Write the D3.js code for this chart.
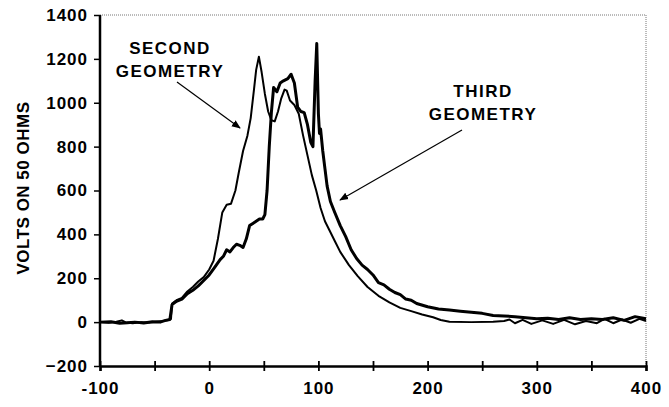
<!DOCTYPE html>
<html>
<head>
<meta charset="utf-8">
<script src="https://cdn.jsdelivr.net/npm/d3@7"></script>
<style>
  body { margin: 0; background: #fff; }
  text { font-family: "Liberation Sans", Arial, sans-serif; font-weight: bold; fill: #000; }
</style>
</head>
<body>
<svg width="669" height="407"></svg>
<script>
// second geometry (thin trace)
var secondX = [-100,-92,-85,-80,-76,-70,-62,-55,-48,-42,-37,-35,-34,-30,-25,-20,-15,-10,-5,0,4,8,12,16,20,24,27,31,35,38,41,43,45.5,48,51,54,57,60,63,66,69,71,74,78,82,86,90,94,98,102,106,110,115,120,128,136,145,155,165,175,185,195,205,212,220,240,260,270,275,280,287,295,305,315,325,335,345,355,362,370,378,386,394,400];
var secondV = [0,-3,2,8,-2,-5,0,-2,3,5,10,15,85,100,110,140,160,185,205,240,280,380,500,535,540,600,680,780,850,930,1060,1150,1210,1140,1040,960,920,915,960,1020,1060,1055,1010,990,950,850,760,670,600,520,460,420,370,320,260,210,160,120,90,65,50,35,22,10,2,0,2,5,12,-5,10,-8,8,-8,10,-10,5,-5,15,-5,12,-3,15,5];

// third geometry (thick trace)
var thirdX = [-100,-90,-82,-75,-68,-60,-52,-45,-40,-36,-34,-30,-25,-20,-15,-10,-5,0,5,10,13,16,19,22,25,28,31,34,37,40,43,46,49,51,53,55,57,59,62,65,68,72,75,78,81,84,87,90,93,95,97,98.5,100,101,102,104,106,108,111,115,120,125,130,135,140,145,150,155,160,165,170,175,180,185,190,200,210,220,230,240,250,260,270,280,290,300,310,320,330,340,350,360,370,380,390,400];
var thirdV = [0,2,-5,-3,0,-4,2,0,8,12,80,95,105,130,145,165,190,215,250,285,300,330,320,340,355,350,340,380,440,450,460,470,470,490,600,800,960,1070,1050,1090,1100,1110,1130,1090,980,960,955,900,820,800,1100,1270,950,860,880,780,700,620,550,500,440,390,330,290,260,240,215,180,170,150,135,125,105,100,85,70,60,55,50,45,40,30,28,25,20,15,18,12,20,12,15,12,20,8,25,15];

var xTicks = [-100,-50,0,50,100,150,200,250,300,350,400];
var xLabels = [-100,0,100,200,300,400];
var yTicks = [-200,0,200,400,600,800,1000,1200,1400];

var svg = d3.select("svg");
var mLeft = 100, mRight = 646, mTop = 15, mBottom = 366;

var x = d3.scaleLinear().domain([-100, 400]).range([mLeft, mRight]);
var y = d3.scaleLinear().domain([-200, 1400]).range([mBottom, mTop]);

// dotted frame top / right
svg.append("path")
    .attr("d", "M" + mLeft + "," + mTop + "H" + mRight + "V" + mBottom)
    .attr("fill", "none")
    .attr("stroke", "#777")
    .attr("stroke-width", 1)
    .attr("stroke-dasharray", "1,1");

var line = d3.line()
    .x(function(d) { return x(d[0]); })
    .y(function(d) { return y(d[1]); });

svg.append("path")
    .datum(d3.zip(secondX, secondV))
    .attr("fill", "none")
    .attr("stroke", "#000")
    .attr("stroke-width", 2)
    .attr("stroke-linejoin", "round")
    .attr("d", line);

svg.append("path")
    .datum(d3.zip(thirdX, thirdV))
    .attr("fill", "none")
    .attr("stroke", "#000")
    .attr("stroke-width", 3)
    .attr("stroke-linejoin", "round")
    .attr("d", line);

// y axis
var yAxis = svg.append("g")
    .attr("transform", "translate(" + mLeft + ",0)")
    .call(d3.axisLeft(y).tickValues(yTicks).tickSize(6).tickPadding(6)
      .tickFormat(d3.format("d")));
yAxis.select(".domain").attr("stroke-width", 2.5).attr("d", "M0," + mTop + "V" + mBottom);
yAxis.selectAll(".tick line").attr("stroke-width", 1.5);
yAxis.selectAll("text")
    .style("font-size", "17px")
    .style("letter-spacing", "1px");

// x axis
var xAxis = svg.append("g")
    .attr("transform", "translate(0," + mBottom + ")")
    .call(d3.axisBottom(x).tickValues(xTicks).tickSizeOuter(0).tickSize(5)
      .tickFormat(function(d) { return xLabels.indexOf(d) >= 0 ? d : ""; }));
xAxis.select(".domain").attr("stroke-width", 2.5);
xAxis.selectAll(".tick line").attr("y1", -5).attr("stroke-width", 1.8);
xAxis.selectAll("text")
    .attr("dy", "1.15em")
    .style("font-size", "17px")
    .style("letter-spacing", "1px");

// y title
svg.append("text")
    .attr("transform", "translate(29,188) rotate(-90)")
    .attr("text-anchor", "middle")
    .style("font-size", "17px")
    .style("letter-spacing", "0.5px")
    .text("VOLTS ON 50 OHMS");

// annotations
svg.append("defs").append("marker")
    .attr("id", "head")
    .attr("viewBox", "0 0 10 10")
    .attr("refX", 9).attr("refY", 5)
    .attr("markerWidth", 9).attr("markerHeight", 9)
    .attr("markerUnits", "userSpaceOnUse")
    .attr("orient", "auto")
  .append("path")
    .attr("d", "M0,1L10,5L0,9Z")
    .attr("fill", "#000");

var notes = [
  { lines: ["SECOND", "GEOMETRY"], cx: 170, y0: 54, from: [177, 82], to: [240, 128] },
  { lines: ["THIRD", "GEOMETRY"], cx: 483, y0: 97, from: [462, 130], to: [340, 200] }
];

notes.forEach(function(n) {
  n.lines.forEach(function(t, i) {
    svg.append("text")
      .attr("x", n.cx).attr("y", n.y0 + i * 23)
      .attr("text-anchor", "middle")
      .style("font-size", "17px")
      .style("letter-spacing", "1.5px")
      .text(t);
  });
  svg.append("line")
    .attr("x1", n.from[0]).attr("y1", n.from[1])
    .attr("x2", n.to[0]).attr("y2", n.to[1])
    .attr("stroke", "#000")
    .attr("stroke-width", 1.2)
    .attr("marker-end", "url(#head)");
});
</script>
</body>
</html>
